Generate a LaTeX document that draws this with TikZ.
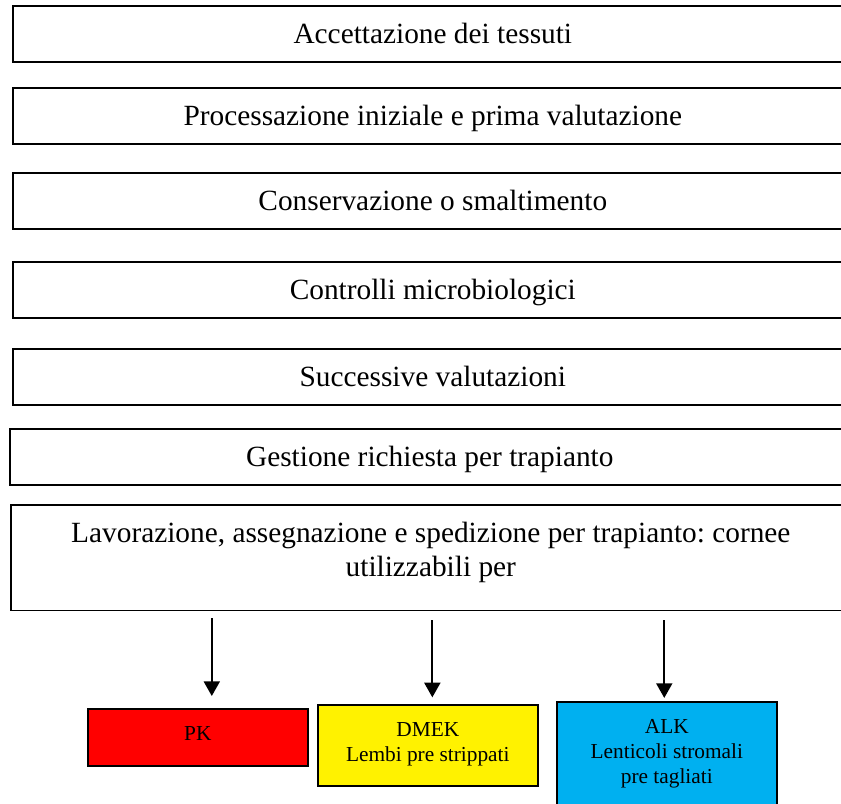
\documentclass[tikz,border=0pt]{standalone}
\usepackage{fontspec}
\setmainfont{Liberation Serif}
\usetikzlibrary{arrows.meta}
\definecolor{alkblue}{RGB}{0,176,240}
\frenchspacing
\tikzset{
  stage/.style={draw, line width=1.2pt, anchor=north west, inner sep=0pt,
    minimum width=630pt, minimum height=42pt, text height=14.6pt, text depth=0pt,
    font=\fontsize{22}{26}\selectfont},
  usebox/.style={draw, line width=1.2pt, anchor=north west, inner sep=0pt,
    minimum width=165pt, text width=160pt, align=flush center, text height=24pt,
    font=\fontsize{16}{18.75}\selectfont},
  flow/.style={line width=1.5pt, -{Triangle[length=11pt,width=12pt]}}
}
\begin{document}
\begin{tikzpicture}[x=0.75pt, y=-0.75pt]
  \useasboundingbox (0,0) rectangle (841,803);
  \node [stage] (accept) at (12,5) {Accettazione dei tessuti};
  \node [stage] (proc) at (12,87) {Processazione iniziale e prima valutazione};
  \node [stage] (cons) at (12,172) {Conservazione o smaltimento};
  \node [stage] (micro) at (12,261) {Controlli microbiologici};
  \node [stage] (succ) at (12,348) {Successive valutazioni};
  \node [stage] (req) at (9,428) {Gestione richiesta per trapianto};
  \node [stage, text width=600pt, align=flush center, text height=28pt, text depth=51.4pt]
    (lav) at (10,504) {Lavorazione, assegnazione e spedizione per trapianto: cornee\\ utilizzabili per};
  % tipi di trapianto
  \node [usebox, fill=red, text depth=18.75pt] (pk) at (87,708) {PK};
  \node [usebox, fill=yellow, text depth=36.75pt] (dmek) at (317,704) {DMEK\\ Lembi pre strippati};
  \node [usebox, fill=alkblue, text depth=82pt] (alk) at (556,701) {ALK\\ Lenticoli stromali\\ pre tagliati};
  \coordinate (pkin) at ([xshift=10.5pt]pk.north);
  \coordinate (dmekin) at ([xshift=3.4pt]dmek.north);
  \coordinate (alkin) at ([xshift=-1.9pt]alk.north);
  \draw [flow, shorten <=5pt, shorten >=9pt] (pkin |- lav.south) -- (pkin);
  \draw [flow, shorten <=6.5pt, shorten >=5pt] (dmekin |- lav.south) -- (dmekin);
  \draw [flow, shorten <=6.5pt, shorten >=2.3pt] (alkin |- lav.south) -- (alkin);
\end{tikzpicture}
\end{document}
